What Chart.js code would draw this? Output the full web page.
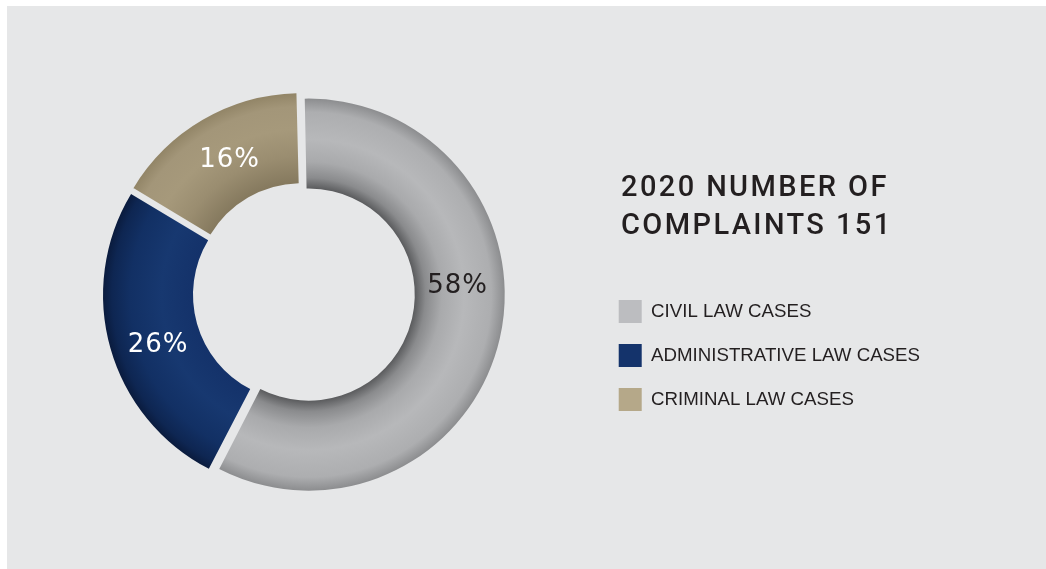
<!DOCTYPE html>
<html>
<head>
<meta charset="utf-8">
<script src="https://cdn.jsdelivr.net/npm/chart.js@4.4.1/dist/chart.umd.min.js"></script>
<style>
  html, body { margin: 0; padding: 0; background: #fff; }
  #panel { position: absolute; left: 7px; top: 6px; right: 0; bottom: 0; background: #e6e7e8; }
  #wrap { position: absolute; left: 0; top: 0; width: 1046px; height: 569px; }
  #title {
    position: absolute; left: 621px; top: 167px;
    font-family: Roboto, sans-serif; font-weight: 500; font-size: 29px;
    line-height: 38px; letter-spacing: 2.4px; color: #231f20;
  }
</style>
</head>
<body>
<div id="panel"></div>
<div id="wrap"><canvas id="chart" width="1046" height="569"></canvas></div>
<div id="title"></div>
<script>
// data
const categories = ['CIVIL LAW CASES', 'ADMINISTRATIVE LAW CASES', 'CRIMINAL LAW CASES'];
const shares = [58, 26, 16];          // percent
const year = 2020;
const totalComplaints = 151;

// styles
const flatColors = ['#bcbdc0', '#14336b', '#b5a889'];
const labelColors = ['#231f20', '#ffffff', '#ffffff'];
const labelNudge = [-16.5, -3, 1.4];  // degrees, moves label off the slice middle
const RADIUS = 196;
const CUTOUT = 54.1;

// radial shading, inner edge (0) to outer edge (1)
const shading = [
    [[0, '#5b5c5e'], [0.12, '#8a8b8d'], [0.3, '#a9aaac'], [0.55, '#b7b8ba'], [0.85, '#adaeb0'], [1, '#8c8d8f']],
    [[0, '#14326a'], [0.35, '#173870'], [0.7, '#123064'], [0.9, '#0e2652'], [1, '#0a1b3d']],
    [[0, '#85795e'], [0.3, '#9a8d70'], [0.6, '#a6997b'], [0.85, '#a39679'], [1, '#928567']]
];

document.getElementById('title').innerHTML =
    year + ' NUMBER OF<br>COMPLAINTS ' + totalComplaints;

function sliceFill(c) {
    const area = c.chart.chartArea;
    if (!area) return flatColors[c.dataIndex];
    const cx = (area.left + area.right) / 2;
    const cy = (area.top + area.bottom) / 2;
    const g = c.chart.ctx.createRadialGradient(cx, cy, RADIUS * CUTOUT / 100, cx, cy, RADIUS);
    shading[c.dataIndex].forEach(s => g.addColorStop(s[0], s[1]));
    return g;
}

// chart.js grows slices wider than 180deg when they are offset, undo that
const offsetFix = {
    id: 'offsetFix',
    afterDatasetsUpdate(chart) {
        chart.getDatasetMeta(0).data.forEach(arc => {
            const off = (arc.options.offset || 0) / 4;
            const shift = off * (1 - Math.sin(Math.min(Math.PI, arc.circumference)));
            arc.outerRadius -= shift;
            arc.innerRadius -= shift;
        });
    }
};

const sliceLabels = {
    id: 'sliceLabels',
    afterDatasetsDraw(chart) {
        const ctx = chart.ctx;
        ctx.save();
        ctx.font = '26px "DejaVu Sans"';
        ctx.letterSpacing = '1px';
        ctx.textAlign = 'center';
        ctx.textBaseline = 'middle';
        chart.getDatasetMeta(0).data.forEach((arc, i) => {
            const a = (arc.startAngle + arc.endAngle) / 2 + labelNudge[i] * Math.PI / 180;
            ctx.fillStyle = labelColors[i];
            ctx.fillText(shares[i] + '%', arc.x + Math.cos(a) * 154, arc.y + Math.sin(a) * 154 + 2);
        });
        ctx.restore();
    }
};

new Chart(document.getElementById('chart'), {
    type: 'doughnut',
    data: {
        labels: categories,
        datasets: [{
            data: shares,
            backgroundColor: sliceFill,
            borderWidth: 0,
            offset: 20,
            hoverOffset: 20
        }]
    },
    options: {
        responsive: false,
        animation: false,
        events: [],
        radius: RADIUS,
        cutout: CUTOUT + '%',
        rotation: -1.4,
        layout: { padding: { left: 10, right: 116, top: 38, bottom: 20 } },
        plugins: {
            tooltip: { enabled: false },
            legend: {
                position: 'right',
                title: { display: true, text: '', padding: { top: 112, bottom: 0 }, font: { size: 10, lineHeight: 1.2 } },
                labels: {
                    boxWidth: 23,
                    boxHeight: 23,
                    padding: 21,
                    color: '#231f20',
                    font: { family: '"Liberation Sans", Arial, sans-serif', size: 18.7 },
                    generateLabels(chart) {
                        const items = Chart.overrides.doughnut.plugins.legend.labels.generateLabels(chart);
                        items.forEach((it, i) => { it.fillStyle = flatColors[i]; it.lineWidth = 0; });
                        return items;
                    }
                }
            }
        }
    },
    plugins: [offsetFix, sliceLabels]
});
</script>
</body>
</html>
